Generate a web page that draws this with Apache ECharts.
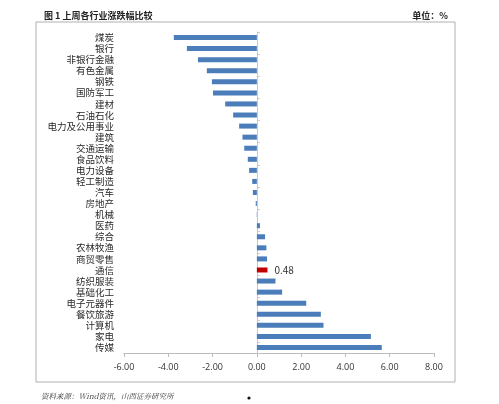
<!DOCTYPE html>
<html>
<head>
<meta charset="utf-8">
<script src="https://cdn.jsdelivr.net/npm/echarts@6/dist/echarts.min.js"></script>
<style>
  html, body { margin: 0; padding: 0; background: #fff; }
  #chart { width: 499px; height: 404px; }
</style>
</head>
<body>
<div id="chart"></div>
<script>
// 行业（从上到下）
var industries = ['煤炭', '银行', '非银行金融', '有色金属', '钢铁', '国防军工', '建材', '石油石化',
  '电力及公用事业', '建筑', '交通运输', '食品饮料', '电力设备', '轻工制造', '汽车', '房地产',
  '机械', '医药', '综合', '农林牧渔', '商贸零售', '通信', '纺织服装', '基础化工', '电子元器件',
  '餐饮旅游', '计算机', '家电', '传媒']
// 上周涨跌幅 (%)
var changes = [-3.75, -3.16, -2.66, -2.26, -2.03, -1.98, -1.43, -1.07,
  -0.80, -0.65, -0.57, -0.41, -0.35, -0.21, -0.18, -0.05,
  -0.01, 0.14, 0.37, 0.43, 0.46, 0.48, 0.84, 1.14, 2.23,
  2.89, 3.01, 5.15, 5.64]
var xTicks = [-6, -4, -2, 0, 2, 4, 6, 8]
var highlight = '通信'

var chart = echarts.init(document.getElementById('chart'))

var barData = industries.map(function (name, i) {
  if (name === highlight) {
    return {
      value: changes[i],
      itemStyle: { color: '#c00000' },
      label: { show: true, position: 'right', distance: 7, formatter: function (p) { return p.value.toFixed(2) } }
    }
  }
  return changes[i]
})

var option = {
  animation: false,
  textStyle: { fontFamily: '"Noto Sans CJK SC", "Noto Sans", sans-serif' },
  title: [
    {
      text: '图 1 上周各行业涨跌幅比较',
      left: 39, top: 6,
      textStyle: { fontSize: 9, fontWeight: 'bold', color: '#222' }
    },
    {
      text: '单位：%',
      right: 46, top: 6,
      textStyle: { fontSize: 9, fontWeight: 'bold', color: '#222' }
    },
    {
      text: '资料来源：Wind资讯，山西证券研究所',
      left: 36, top: 387,
      textStyle: { fontSize: 7.5, fontWeight: 'normal', fontStyle: 'italic', color: '#333', fontFamily: '"Noto Serif CJK SC", "Liberation Serif", serif' }
    }
  ],
  graphic: [
    {
      type: 'rect',
      shape: { x: 36, y: 22, width: 419, height: 360 },
      style: { fill: 'none', stroke: '#b0b0b0', lineWidth: 1 },
      silent: true
    },
    {
      type: 'circle',
      shape: { cx: 249, cy: 398, r: 1.6 },
      style: { fill: '#111' },
      silent: true
    }
  ],
  grid: { left: 124, right: 65, top: 32, bottom: 51, containLabel: false, outerBoundsMode: 'none' },
  xAxis: {
    type: 'value',
    min: xTicks[0],
    max: xTicks[xTicks.length - 1],
    interval: 2,
    axisLine: { show: true, onZero: false, lineStyle: { color: '#bbb' } },
    axisTick: { show: true, length: 4, inside: false, lineStyle: { color: '#bbb' } },
    splitLine: { show: false },
    axisLabel: {
      fontSize: 9, color: '#333', margin: 10,
      fontFamily: '"Open Sans", "Noto Sans", sans-serif',
      formatter: function (v) { return v.toFixed(2) }
    }
  },
  yAxis: [
    {
      // 左侧行业名称
      type: 'category',
      inverse: true,
      position: 'left',
      data: industries,
      axisLine: { show: false, onZero: false },
      axisTick: { show: false },
      axisLabel: { fontSize: 9.5, color: '#2a2a2a', margin: 10, interval: 0 }
    },
    {
      // 零值处的纵轴线
      type: 'category',
      inverse: true,
      data: industries,
      axisLine: { show: true, onZero: true, lineStyle: { color: '#c8c8c8' } },
      axisTick: { show: true, length: 3, inside: false, lineStyle: { color: '#c8c8c8' } },
      axisLabel: { show: false }
    }
  ],
  series: [
    {
      type: 'bar',
      yAxisIndex: 0,
      data: barData,
      barWidth: 5,
      itemStyle: { color: '#4a7dba' },
      label: { fontSize: 10, color: '#333' }
    }
  ]
}

chart.setOption(option)
</script>
</body>
</html>
